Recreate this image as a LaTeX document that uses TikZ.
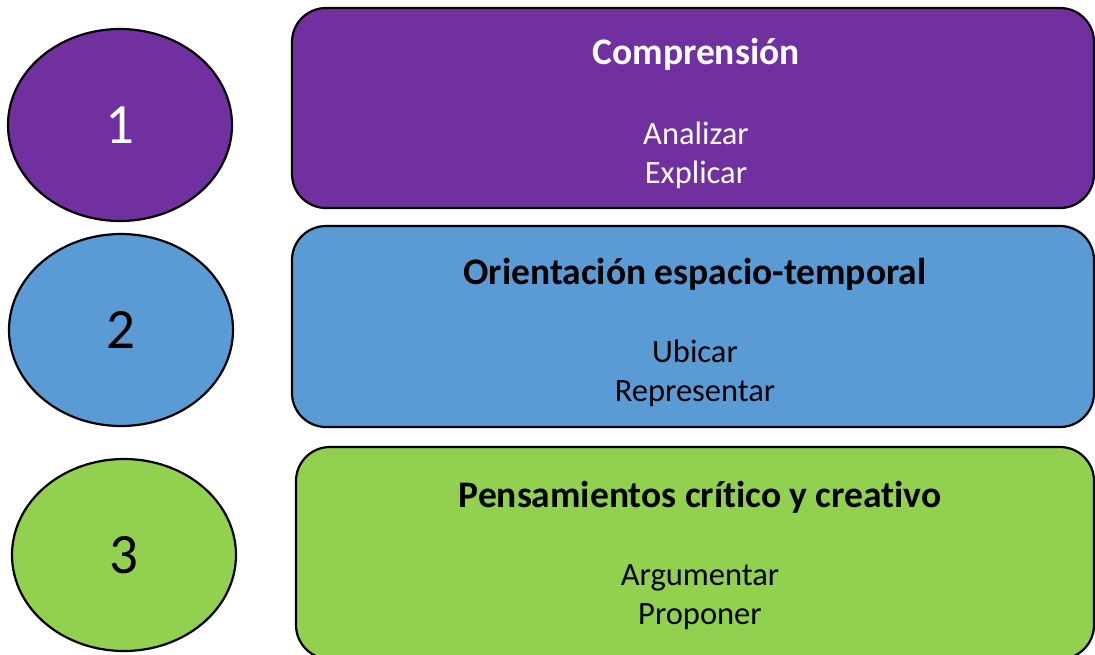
\documentclass[tikz,border=0pt]{standalone}
\usepackage{fontspec}
\setmainfont{Carlito}[Ligatures=NoCommon]
\usetikzlibrary{shapes.geometric}
\definecolor{morado}{HTML}{7030A0}
\definecolor{azul}{HTML}{5B9BD5}
\definecolor{verde}{HTML}{92D050}
\tikzset{
  num/.style={ellipse, draw=black, line width=2.2pt, minimum width=224pt, minimum height=192pt, inner sep=0pt, font=\fontsize{57}{60}\selectfont},
  caja/.style={rectangle, rounded corners=34pt, draw=black, line width=2.2pt, minimum width=802pt, inner sep=0pt},
  titulo/.style={font=\fontsize{37.5}{42}\bfseries\selectfont},
  verbos/.style={align=center, font=\fontsize{32.5}{39}\selectfont}
}
\begin{document}
\begin{tikzpicture}[x=1pt, y=-1pt]
\useasboundingbox (0,0) rectangle (1095,654);
\node[num, fill=morado, text=white] (n1) at (120,125) {1};
\node[num, fill=azul] (n2) at (121,330) {2};
\node[num, fill=verde] (n3) at (124,555) {3};
\node[caja, fill=morado, minimum height=200pt] (c1) at (693,108) {};
\node[caja, fill=azul, minimum height=201pt] (c2) at (693,326.5) {};
\node[caja, fill=verde, minimum height=212pt, minimum width=798pt] (c3) at (695,553) {};
\node[titulo, text=white] (t1) at (696,54) {Comprensión};
\node[verbos, text=white] (v1) at (696,155) {Analizar\\Explicar};
\node[titulo] (t2) at (695,274) {Orientación espacio-temporal};
\node[verbos] (v2) at (695,373) {Ubicar\\Representar};
\node[titulo] (t3) at (700,497) {Pensamientos crítico y creativo};
\node[verbos] (v3) at (700,597) {Argumentar\\Proponer};
\end{tikzpicture}
\end{document}
